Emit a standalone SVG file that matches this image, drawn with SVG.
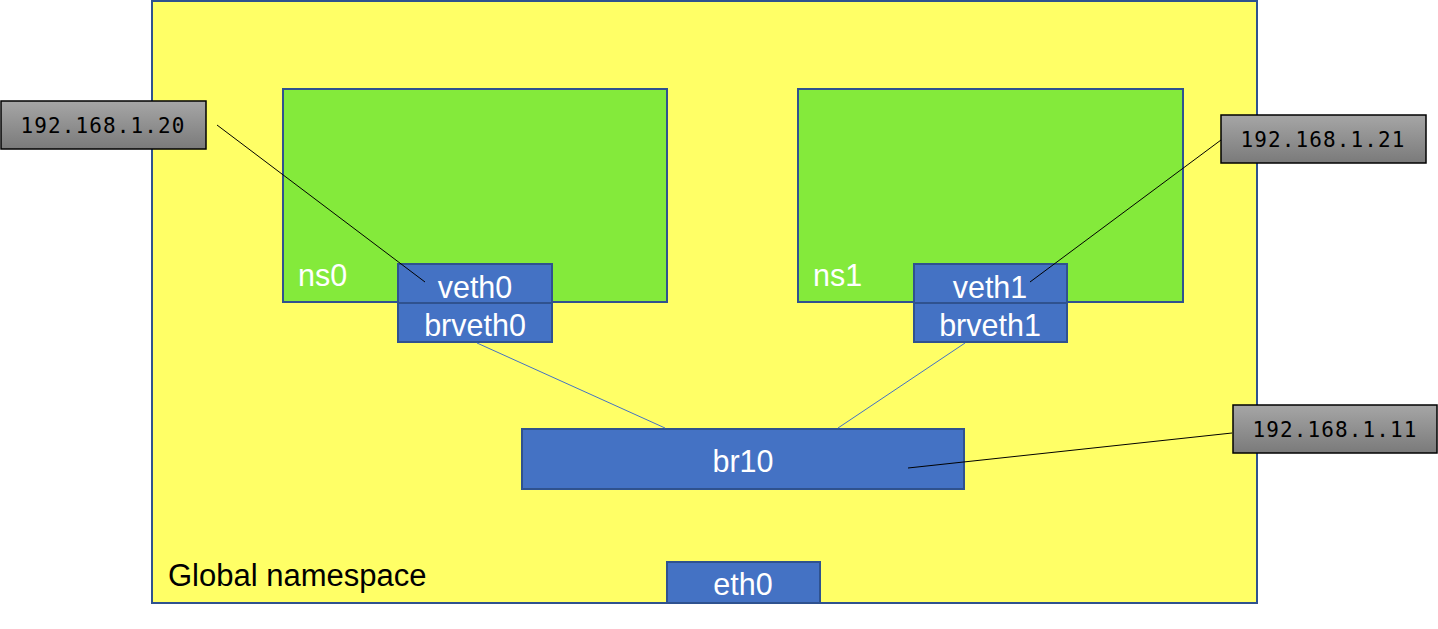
<svg xmlns="http://www.w3.org/2000/svg" width="1438" height="629" viewBox="0 0 1438 629">
<defs>
<linearGradient id="gray" x1="0" y1="0" x2="0" y2="1">
<stop offset="0" stop-color="#a6a6a6"/>
<stop offset="1" stop-color="#7a7a7a"/>
</linearGradient>
<style>
.ns{fill:#84EA3B;stroke:#2F528F;stroke-width:2}
.if{fill:#4472C4;stroke:#2F528F;stroke-width:2}
.ip{fill:url(#gray);stroke:#000;stroke-width:1.5}
.wt{font-family:"Liberation Sans",Arial,sans-serif;font-size:30.5px;fill:#fff}
.iptxt{font-family:"DejaVu Sans Mono","Liberation Mono",monospace;font-size:21px;fill:#000;letter-spacing:1.1px}
.bl{stroke:#000;stroke-width:1;fill:none}
.bu{stroke:#4472C4;stroke-width:1;fill:none}
</style>
</defs>
<rect width="1438" height="629" fill="#fff"/>
<g id="global">
<rect x="152" y="1" width="1105" height="602" fill="#FFFF66" stroke="#2F528F" stroke-width="2"/>
<text x="168" y="586" font-family="Liberation Sans,Arial,sans-serif" font-size="31" fill="#000">Global namespace</text>
</g>
<g id="ns0">
<rect class="ns" x="283" y="89" width="384" height="213"/>
<text class="wt" x="298" y="286">ns0</text>
</g>
<g id="ns1">
<rect class="ns" x="798" y="89" width="385" height="213"/>
<text class="wt" x="813" y="286">ns1</text>
</g>
<g id="veth0">
<rect class="if" x="398" y="264" width="154" height="39"/>
<text class="wt" x="475" y="298" text-anchor="middle">veth0</text>
</g>
<g id="brveth0">
<rect class="if" x="398" y="303" width="154" height="39"/>
<text class="wt" x="475" y="336" text-anchor="middle">brveth0</text>
</g>
<g id="veth1">
<rect class="if" x="914" y="264" width="153" height="39"/>
<text class="wt" x="990" y="298" text-anchor="middle">veth1</text>
</g>
<g id="brveth1">
<rect class="if" x="914" y="303" width="153" height="39"/>
<text class="wt" x="990" y="336" text-anchor="middle">brveth1</text>
</g>
<g id="br10">
<rect class="if" x="522" y="429" width="442" height="60"/>
<text class="wt" x="743" y="472" text-anchor="middle">br10</text>
</g>
<g id="eth0">
<rect class="if" x="667" y="562" width="153" height="41"/>
<text class="wt" x="743" y="595" text-anchor="middle">eth0</text>
</g>
<g id="ip20">
<rect class="ip" x="1" y="101" width="205" height="48"/>
<text class="iptxt" x="103" y="133" text-anchor="middle">192.168.1.20</text>
</g>
<g id="ip21">
<rect class="ip" x="1221" y="115" width="205" height="48"/>
<text class="iptxt" x="1323" y="147" text-anchor="middle">192.168.1.21</text>
</g>
<g id="ip11">
<rect class="ip" x="1233" y="405" width="204" height="48"/>
<text class="iptxt" x="1335" y="437" text-anchor="middle">192.168.1.11</text>
</g>
<g id="connectors">
<line class="bu" x1="477" y1="343" x2="665" y2="428"/>
<line class="bu" x1="965" y1="343" x2="838" y2="428"/>
<line class="bl" x1="217" y1="125" x2="425" y2="282"/>
<line class="bl" x1="1221" y1="140" x2="1030" y2="282"/>
<line class="bl" x1="1232" y1="433" x2="908" y2="468"/>
</g>
</svg>
